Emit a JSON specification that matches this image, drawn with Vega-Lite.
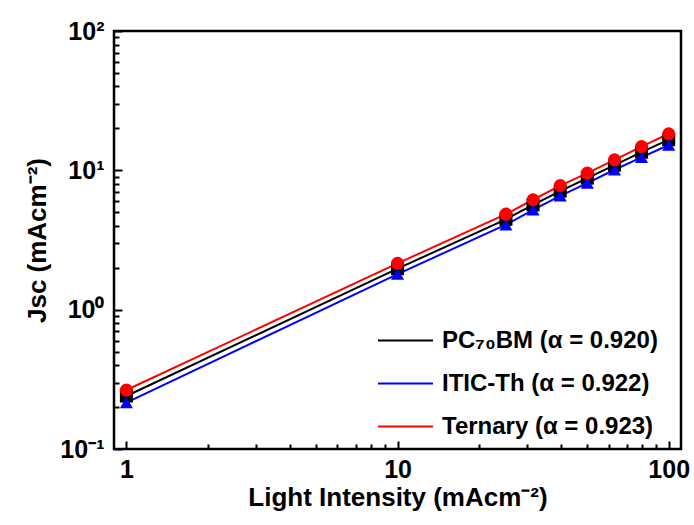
{
  "$schema": "https://vega.github.io/schema/vega-lite/v6.json",
  "width": 567,
  "height": 418,
  "autosize": {"type": "none"},
  "padding": {"left": 114, "top": 31, "right": 13, "bottom": 76},
  "background": "white",
  "config": {
    "view": {"stroke": "black", "strokeWidth": 2.5},
    "font": "Liberation Sans",
    "axis": {
      "grid": false,
      "domain": false,
      "tickColor": "black",
      "tickWidth": 2,
      "labelFont": "Liberation Sans",
      "labelFontWeight": "bold",
      "labelColor": "black",
      "labelOverlap": false,
      "labelFlush": false,
      "titleFont": "Liberation Sans",
      "titleFontWeight": "bold",
      "titleColor": "black"
    }
  },
  "data": {
    "values": [
      {"series": "PC₇₀BM (α = 0.920)", "x": 1, "y": 0.24},
      {"series": "PC₇₀BM (α = 0.920)", "x": 10, "y": 1.97},
      {"series": "PC₇₀BM (α = 0.920)", "x": 25.1, "y": 4.45},
      {"series": "PC₇₀BM (α = 0.920)", "x": 31.6, "y": 5.65},
      {"series": "PC₇₀BM (α = 0.920)", "x": 39.8, "y": 7.1},
      {"series": "PC₇₀BM (α = 0.920)", "x": 50.1, "y": 8.8},
      {"series": "PC₇₀BM (α = 0.920)", "x": 63.1, "y": 10.9},
      {"series": "PC₇₀BM (α = 0.920)", "x": 79.4, "y": 13.5},
      {"series": "PC₇₀BM (α = 0.920)", "x": 100, "y": 16.6},
      {"series": "ITIC-Th (α = 0.922)", "x": 1, "y": 0.215},
      {"series": "ITIC-Th (α = 0.922)", "x": 10, "y": 1.8},
      {"series": "ITIC-Th (α = 0.922)", "x": 25.1, "y": 4.07},
      {"series": "ITIC-Th (α = 0.922)", "x": 31.6, "y": 5.21},
      {"series": "ITIC-Th (α = 0.922)", "x": 39.8, "y": 6.56},
      {"series": "ITIC-Th (α = 0.922)", "x": 50.1, "y": 8.09},
      {"series": "ITIC-Th (α = 0.922)", "x": 63.1, "y": 10.1},
      {"series": "ITIC-Th (α = 0.922)", "x": 79.4, "y": 12.4},
      {"series": "ITIC-Th (α = 0.922)", "x": 100, "y": 15.2},
      {"series": "Ternary (α = 0.923)", "x": 1, "y": 0.265},
      {"series": "Ternary (α = 0.923)", "x": 10, "y": 2.15},
      {"series": "Ternary (α = 0.923)", "x": 25.1, "y": 4.85},
      {"series": "Ternary (α = 0.923)", "x": 31.6, "y": 6.15},
      {"series": "Ternary (α = 0.923)", "x": 39.8, "y": 7.78},
      {"series": "Ternary (α = 0.923)", "x": 50.1, "y": 9.55},
      {"series": "Ternary (α = 0.923)", "x": 63.1, "y": 11.9},
      {"series": "Ternary (α = 0.923)", "x": 79.4, "y": 14.8},
      {"series": "Ternary (α = 0.923)", "x": 100, "y": 18.3}
    ]
  },
  "layer": [
    {
      "mark": {"type": "line", "strokeWidth": 2},
      "encoding": {
        "x": {
          "field": "x",
          "type": "quantitative",
          "scale": {"type": "log", "domain": [0.9, 111], "nice": false},
          "axis": {
            "orient": "bottom",
            "title": "Light Intensity (mAcm⁻²)",
            "values": [1, 10, 100],
            "labelExpr": "datum.value == 1 ? '1' : datum.value == 10 ? '10' : '100'",
            "offset": -8,
            "tickSize": 8,
            "labelFontSize": 25,
            "labelPadding": 8,
            "titleFontSize": 26,
            "titlePadding": 2
          }
        },
        "y": {
          "field": "y",
          "type": "quantitative",
          "scale": {"type": "log", "domain": [0.1, 100], "nice": false},
          "axis": {
            "orient": "left",
            "title": "Jsc (mAcm⁻²)",
            "values": [0.1, 1, 10, 100],
            "labelExpr": "datum.value == 0.1 ? '10⁻¹' : datum.value == 1 ? '10⁰' : datum.value == 10 ? '10¹' : '10²'",
            "offset": -8,
            "tickSize": 8,
            "labelFontSize": 25,
            "labelPadding": 10,
            "titleFontSize": 26,
            "titlePadding": 9
          }
        },
        "color": {
          "field": "series",
          "type": "nominal",
          "scale": {"domain": ["PC₇₀BM (α = 0.920)", "ITIC-Th (α = 0.922)", "Ternary (α = 0.923)"], "range": ["#000000", "#0000ff", "#ff0000"]},
          "legend": {
            "orient": "none",
            "legendX": 263,
            "legendY": 281,
            "title": null,
            "symbolType": "stroke",
            "symbolSize": 3025,
            "symbolStrokeWidth": 2,
            "labelFont": "Liberation Sans",
            "labelFontSize": 24,
            "labelFontWeight": "bold",
            "labelColor": "black",
            "labelOffset": 8,
            "labelLimit": 400
          }
        }
      }
    },
    {
      "mark": {"type": "point", "filled": true, "opacity": 1, "size": 170},
      "encoding": {
        "x": {
          "field": "x",
          "type": "quantitative",
          "scale": {"type": "log", "domain": [0.9, 111], "nice": false},
          "axis": {
            "orient": "bottom",
            "title": null,
            "values": [2, 3, 4, 5, 6, 7, 8, 9, 20, 30, 40, 50, 60, 70, 80, 90],
            "labels": false,
            "offset": -5,
            "tickSize": 5
          }
        },
        "y": {
          "field": "y",
          "type": "quantitative",
          "scale": {"type": "log", "domain": [0.1, 100], "nice": false},
          "axis": {
            "orient": "left",
            "title": null,
            "values": [0.2, 0.3, 0.4, 0.5, 0.6, 0.7, 0.8, 0.9, 2, 3, 4, 5, 6, 7, 8, 9, 20, 30, 40, 50, 60, 70, 80, 90],
            "labels": false,
            "offset": -5,
            "tickSize": 5
          }
        },
        "color": {
          "field": "series",
          "type": "nominal",
          "scale": {"domain": ["PC₇₀BM (α = 0.920)", "ITIC-Th (α = 0.922)", "Ternary (α = 0.923)"], "range": ["#000000", "#0000ff", "#ff0000"]},
          "legend": null
        },
        "shape": {
          "field": "series",
          "type": "nominal",
          "scale": {"domain": ["PC₇₀BM (α = 0.920)", "ITIC-Th (α = 0.922)", "Ternary (α = 0.923)"], "range": ["square", "triangle-up", "circle"]},
          "legend": null
        }
      }
    }
  ],
  "resolve": {
    "axis": {"x": "independent", "y": "independent"},
    "legend": {"color": "independent", "shape": "independent"}
  }
}
